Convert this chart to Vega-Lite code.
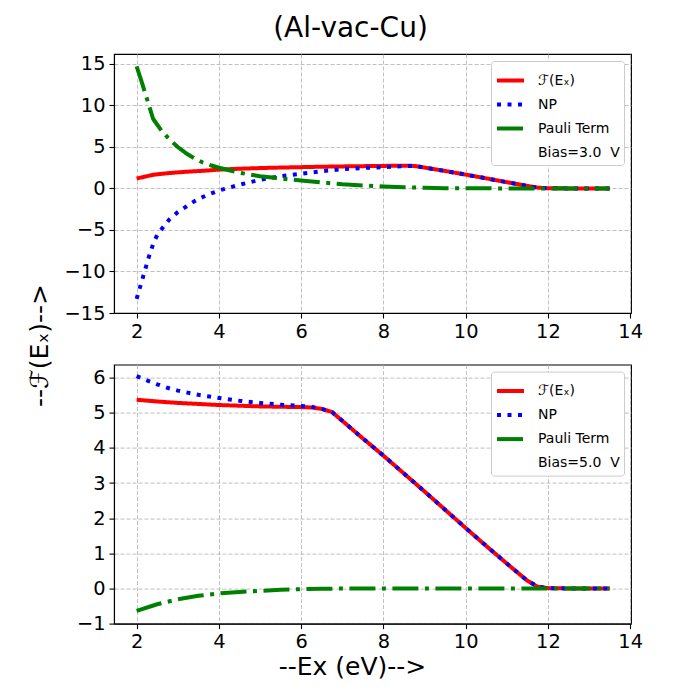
{
  "$schema": "https://vega.github.io/schema/vega-lite/v6.json",
  "padding": {"left": 26, "top": 15, "right": 20, "bottom": 20},
  "background": "white",
  "title": {
    "text": "(Al-vac-Cu)",
    "fontSize": 28,
    "fontWeight": "normal",
    "font": "DejaVu Sans",
    "color": "black",
    "anchor": "middle",
    "frame": "group",
    "baseline": "alphabetic",
    "offset": -12,
    "dx": -22
  },
  "datasets": {
    "top": [
      {"x": 2, "s": "ℱ(Eₓ)", "y": 1.2},
      {"x": 2.2, "s": "ℱ(Eₓ)", "y": 1.42},
      {"x": 2.4, "s": "ℱ(Eₓ)", "y": 1.65},
      {"x": 2.6, "s": "ℱ(Eₓ)", "y": 1.76},
      {"x": 2.8, "s": "ℱ(Eₓ)", "y": 1.86},
      {"x": 3, "s": "ℱ(Eₓ)", "y": 1.94},
      {"x": 3.2, "s": "ℱ(Eₓ)", "y": 2.01},
      {"x": 3.4, "s": "ℱ(Eₓ)", "y": 2.07},
      {"x": 3.6, "s": "ℱ(Eₓ)", "y": 2.13},
      {"x": 3.8, "s": "ℱ(Eₓ)", "y": 2.19},
      {"x": 4, "s": "ℱ(Eₓ)", "y": 2.27},
      {"x": 4.5, "s": "ℱ(Eₓ)", "y": 2.38},
      {"x": 5, "s": "ℱ(Eₓ)", "y": 2.46},
      {"x": 5.5, "s": "ℱ(Eₓ)", "y": 2.52},
      {"x": 6, "s": "ℱ(Eₓ)", "y": 2.57},
      {"x": 6.5, "s": "ℱ(Eₓ)", "y": 2.62},
      {"x": 7, "s": "ℱ(Eₓ)", "y": 2.66},
      {"x": 7.5, "s": "ℱ(Eₓ)", "y": 2.69},
      {"x": 8, "s": "ℱ(Eₓ)", "y": 2.72},
      {"x": 8.5, "s": "ℱ(Eₓ)", "y": 2.74},
      {"x": 8.75, "s": "ℱ(Eₓ)", "y": 2.72},
      {"x": 9, "s": "ℱ(Eₓ)", "y": 2.52},
      {"x": 9.5, "s": "ℱ(Eₓ)", "y": 2.11},
      {"x": 10, "s": "ℱ(Eₓ)", "y": 1.67},
      {"x": 10.5, "s": "ℱ(Eₓ)", "y": 1.22},
      {"x": 11, "s": "ℱ(Eₓ)", "y": 0.76},
      {"x": 11.5, "s": "ℱ(Eₓ)", "y": 0.31},
      {"x": 11.75, "s": "ℱ(Eₓ)", "y": 0.1},
      {"x": 12, "s": "ℱ(Eₓ)", "y": 0.03},
      {"x": 12.5, "s": "ℱ(Eₓ)", "y": 0.01},
      {"x": 13, "s": "ℱ(Eₓ)", "y": 0.01},
      {"x": 13.5, "s": "ℱ(Eₓ)", "y": 0},
      {"x": 2, "s": "NP", "y": -13.3},
      {"x": 2.1, "s": "NP", "y": -11.6},
      {"x": 2.2, "s": "NP", "y": -9.9},
      {"x": 2.3, "s": "NP", "y": -8.2},
      {"x": 2.4, "s": "NP", "y": -6.7},
      {"x": 2.5, "s": "NP", "y": -5.6},
      {"x": 2.6, "s": "NP", "y": -4.95},
      {"x": 2.8, "s": "NP", "y": -3.7},
      {"x": 3, "s": "NP", "y": -2.85},
      {"x": 3.2, "s": "NP", "y": -2.2},
      {"x": 3.4, "s": "NP", "y": -1.55},
      {"x": 3.6, "s": "NP", "y": -1.05},
      {"x": 3.8, "s": "NP", "y": -0.62},
      {"x": 4, "s": "NP", "y": -0.25},
      {"x": 4.5, "s": "NP", "y": 0.45},
      {"x": 5, "s": "NP", "y": 1.05},
      {"x": 5.5, "s": "NP", "y": 1.48},
      {"x": 6, "s": "NP", "y": 1.78},
      {"x": 6.5, "s": "NP", "y": 2.08},
      {"x": 7, "s": "NP", "y": 2.32},
      {"x": 7.5, "s": "NP", "y": 2.47},
      {"x": 8, "s": "NP", "y": 2.57},
      {"x": 8.5, "s": "NP", "y": 2.7},
      {"x": 8.75, "s": "NP", "y": 2.72},
      {"x": 9, "s": "NP", "y": 2.52},
      {"x": 9.5, "s": "NP", "y": 2.11},
      {"x": 10, "s": "NP", "y": 1.67},
      {"x": 10.5, "s": "NP", "y": 1.22},
      {"x": 11, "s": "NP", "y": 0.76},
      {"x": 11.5, "s": "NP", "y": 0.31},
      {"x": 11.75, "s": "NP", "y": 0.1},
      {"x": 12, "s": "NP", "y": 0.03},
      {"x": 12.5, "s": "NP", "y": 0.01},
      {"x": 13, "s": "NP", "y": 0.01},
      {"x": 13.5, "s": "NP", "y": 0},
      {"x": 2, "s": "Pauli Term", "y": 14.7},
      {"x": 2.1, "s": "Pauli Term", "y": 13.2},
      {"x": 2.2, "s": "Pauli Term", "y": 11.6},
      {"x": 2.3, "s": "Pauli Term", "y": 10.0},
      {"x": 2.4, "s": "Pauli Term", "y": 8.4},
      {"x": 2.6, "s": "Pauli Term", "y": 7.0},
      {"x": 2.8, "s": "Pauli Term", "y": 5.9},
      {"x": 3, "s": "Pauli Term", "y": 5.0},
      {"x": 3.2, "s": "Pauli Term", "y": 4.25},
      {"x": 3.4, "s": "Pauli Term", "y": 3.65},
      {"x": 3.6, "s": "Pauli Term", "y": 3.15},
      {"x": 3.8, "s": "Pauli Term", "y": 2.8},
      {"x": 4, "s": "Pauli Term", "y": 2.5},
      {"x": 4.5, "s": "Pauli Term", "y": 1.9},
      {"x": 5, "s": "Pauli Term", "y": 1.48},
      {"x": 5.5, "s": "Pauli Term", "y": 1.2},
      {"x": 6, "s": "Pauli Term", "y": 0.95},
      {"x": 6.5, "s": "Pauli Term", "y": 0.73},
      {"x": 7, "s": "Pauli Term", "y": 0.52},
      {"x": 7.5, "s": "Pauli Term", "y": 0.37},
      {"x": 8, "s": "Pauli Term", "y": 0.24},
      {"x": 8.5, "s": "Pauli Term", "y": 0.15},
      {"x": 9, "s": "Pauli Term", "y": 0.08},
      {"x": 9.5, "s": "Pauli Term", "y": 0.04},
      {"x": 10, "s": "Pauli Term", "y": 0.02},
      {"x": 11, "s": "Pauli Term", "y": 0.01},
      {"x": 12, "s": "Pauli Term", "y": 0},
      {"x": 13, "s": "Pauli Term", "y": 0},
      {"x": 13.5, "s": "Pauli Term", "y": 0}
    ],
    "bottom": [
      {"x": 2, "s": "ℱ(Eₓ)", "y": 5.37},
      {"x": 2.5, "s": "ℱ(Eₓ)", "y": 5.32},
      {"x": 3, "s": "ℱ(Eₓ)", "y": 5.28},
      {"x": 3.5, "s": "ℱ(Eₓ)", "y": 5.25},
      {"x": 4, "s": "ℱ(Eₓ)", "y": 5.22},
      {"x": 4.5, "s": "ℱ(Eₓ)", "y": 5.2},
      {"x": 5, "s": "ℱ(Eₓ)", "y": 5.18},
      {"x": 5.5, "s": "ℱ(Eₓ)", "y": 5.17},
      {"x": 6, "s": "ℱ(Eₓ)", "y": 5.16},
      {"x": 6.25, "s": "ℱ(Eₓ)", "y": 5.15},
      {"x": 6.5, "s": "ℱ(Eₓ)", "y": 5.11},
      {"x": 6.75, "s": "ℱ(Eₓ)", "y": 5.02},
      {"x": 7, "s": "ℱ(Eₓ)", "y": 4.77},
      {"x": 7.5, "s": "ℱ(Eₓ)", "y": 4.27},
      {"x": 8, "s": "ℱ(Eₓ)", "y": 3.78},
      {"x": 8.5, "s": "ℱ(Eₓ)", "y": 3.27},
      {"x": 9, "s": "ℱ(Eₓ)", "y": 2.76},
      {"x": 9.5, "s": "ℱ(Eₓ)", "y": 2.24},
      {"x": 10, "s": "ℱ(Eₓ)", "y": 1.72},
      {"x": 10.5, "s": "ℱ(Eₓ)", "y": 1.21},
      {"x": 11, "s": "ℱ(Eₓ)", "y": 0.71},
      {"x": 11.5, "s": "ℱ(Eₓ)", "y": 0.22},
      {"x": 11.75, "s": "ℱ(Eₓ)", "y": 0.05},
      {"x": 12, "s": "ℱ(Eₓ)", "y": 0.01},
      {"x": 12.5, "s": "ℱ(Eₓ)", "y": 0},
      {"x": 13, "s": "ℱ(Eₓ)", "y": 0},
      {"x": 13.5, "s": "ℱ(Eₓ)", "y": 0},
      {"x": 2, "s": "NP", "y": 6.04},
      {"x": 2.25, "s": "NP", "y": 5.92},
      {"x": 2.5, "s": "NP", "y": 5.81},
      {"x": 2.75, "s": "NP", "y": 5.71},
      {"x": 3, "s": "NP", "y": 5.63},
      {"x": 3.5, "s": "NP", "y": 5.51},
      {"x": 4, "s": "NP", "y": 5.42},
      {"x": 4.5, "s": "NP", "y": 5.34},
      {"x": 5, "s": "NP", "y": 5.28},
      {"x": 5.5, "s": "NP", "y": 5.23},
      {"x": 6, "s": "NP", "y": 5.19},
      {"x": 6.25, "s": "NP", "y": 5.17},
      {"x": 6.5, "s": "NP", "y": 5.11},
      {"x": 6.75, "s": "NP", "y": 5.02},
      {"x": 7, "s": "NP", "y": 4.77},
      {"x": 7.5, "s": "NP", "y": 4.27},
      {"x": 8, "s": "NP", "y": 3.78},
      {"x": 8.5, "s": "NP", "y": 3.27},
      {"x": 9, "s": "NP", "y": 2.76},
      {"x": 9.5, "s": "NP", "y": 2.24},
      {"x": 10, "s": "NP", "y": 1.72},
      {"x": 10.5, "s": "NP", "y": 1.21},
      {"x": 11, "s": "NP", "y": 0.71},
      {"x": 11.5, "s": "NP", "y": 0.22},
      {"x": 11.75, "s": "NP", "y": 0.05},
      {"x": 12, "s": "NP", "y": 0.01},
      {"x": 12.5, "s": "NP", "y": 0},
      {"x": 13, "s": "NP", "y": 0},
      {"x": 13.5, "s": "NP", "y": 0},
      {"x": 2, "s": "Pauli Term", "y": -0.64},
      {"x": 2.5, "s": "Pauli Term", "y": -0.45},
      {"x": 3, "s": "Pauli Term", "y": -0.31},
      {"x": 3.5, "s": "Pauli Term", "y": -0.21},
      {"x": 4, "s": "Pauli Term", "y": -0.14},
      {"x": 4.5, "s": "Pauli Term", "y": -0.1},
      {"x": 5, "s": "Pauli Term", "y": -0.07},
      {"x": 5.5, "s": "Pauli Term", "y": -0.04},
      {"x": 6, "s": "Pauli Term", "y": -0.02},
      {"x": 6.5, "s": "Pauli Term", "y": -0.01},
      {"x": 7, "s": "Pauli Term", "y": 0},
      {"x": 8, "s": "Pauli Term", "y": 0},
      {"x": 9, "s": "Pauli Term", "y": 0},
      {"x": 10, "s": "Pauli Term", "y": 0},
      {"x": 11, "s": "Pauli Term", "y": 0},
      {"x": 12, "s": "Pauli Term", "y": 0},
      {"x": 13, "s": "Pauli Term", "y": 0},
      {"x": 13.5, "s": "Pauli Term", "y": 0}
    ]
  },
  "spacing": 51.6,
  "bounds": "flush",
  "resolve": {
    "scale": {"x": "independent", "y": "independent", "color": "independent", "strokeDash": "independent"},
    "legend": {"color": "independent", "strokeDash": "independent"}
  },
  "vconcat": [
    {
      "width": 517,
      "height": 259,
      "data": {"name": "top"},
      "mark": {"type": "line", "strokeWidth": 4, "strokeCap": "butt", "strokeJoin": "round", "clip": true},
      "encoding": {
        "x": {
          "field": "x", "type": "quantitative",
          "scale": {"domain": [1.45, 14.02], "nice": false, "zero": false},
          "axis": {"values": [2, 4, 6, 8, 10, 12, 14], "title": null}
        },
        "y": {
          "field": "y", "type": "quantitative",
          "scale": {"domain": [-15, 16.2], "nice": false, "zero": false},
          "axis": {
            "values": [-15, -10, -5, 0, 5, 10, 15],
            "title": "--ℱ(Eₓ)-->",
            "titleX": -67,
            "titleY": 291,
            "titleAngle": 270,
            "titleAlign": "center",
            "titleBaseline": "alphabetic"
          }
        },
        "color": {
          "field": "s", "type": "nominal",
          "scale": {
            "domain": ["ℱ(Eₓ)", "NP", "Pauli Term", "Bias=3.0\u00a0 V"],
            "range": ["#ff0000", "#0000ff", "#008000", "rgba(0,0,0,0)"]
          },
          "legend": {"title": null}
        },
        "strokeDash": {
          "field": "s", "type": "nominal",
          "scale": {
            "domain": ["ℱ(Eₓ)", "NP", "Pauli Term", "Bias=3.0\u00a0 V"],
            "range": [[1, 0], [4, 6.5], [26, 6.5, 4, 6.5], [1, 0]]
          },
          "legend": {"title": null}
        }
      }
    },
    {
      "width": 517,
      "height": 259,
      "data": {"name": "bottom"},
      "mark": {"type": "line", "strokeWidth": 4, "strokeCap": "butt", "strokeJoin": "round", "clip": true},
      "encoding": {
        "x": {
          "field": "x", "type": "quantitative",
          "scale": {"domain": [1.45, 14.02], "nice": false, "zero": false},
          "axis": {
            "values": [2, 4, 6, 8, 10, 12, 14],
            "title": "--Ex (eV)-->",
            "titleX": 238,
            "titleY": 51,
            "titleAlign": "center",
            "titleBaseline": "alphabetic"
          }
        },
        "y": {
          "field": "y", "type": "quantitative",
          "scale": {"domain": [-1, 6.37], "nice": false, "zero": false},
          "axis": {"values": [-1, 0, 1, 2, 3, 4, 5, 6], "title": null}
        },
        "color": {
          "field": "s", "type": "nominal",
          "scale": {
            "domain": ["ℱ(Eₓ)", "NP", "Pauli Term", "Bias=5.0\u00a0 V"],
            "range": ["#ff0000", "#0000ff", "#008000", "rgba(0,0,0,0)"]
          },
          "legend": {"title": null}
        },
        "strokeDash": {
          "field": "s", "type": "nominal",
          "scale": {
            "domain": ["ℱ(Eₓ)", "NP", "Pauli Term", "Bias=5.0\u00a0 V"],
            "range": [[1, 0], [4, 6.5], [26, 6.5, 4, 6.5], [1, 0]]
          },
          "legend": {"title": null}
        }
      }
    }
  ],
  "config": {
    "font": "DejaVu Sans",
    "view": {"stroke": "black", "strokeWidth": 1.1},
    "axis": {
      "domainColor": "black",
      "domainWidth": 1.1,
      "tickColor": "black",
      "tickSize": 5,
      "tickWidth": 1.1,
      "labelFont": "DejaVu Sans",
      "labelFontSize": 19.4,
      "labelColor": "black",
      "labelPadding": 4,
      "labelOverlap": false,
      "labelFlush": false,
      "grid": true,
      "gridColor": "#b0b0b0",
      "gridDash": [4, 2],
      "gridWidth": 0.8,
      "gridOpacity": 1,
      "titleFont": "DejaVu Sans",
      "titleFontSize": 25,
      "titleFontWeight": "normal",
      "titleColor": "black"
    },
    "legend": {
      "orient": "top-right",
      "offset": 7,
      "fillColor": "white",
      "strokeColor": "#cccccc",
      "cornerRadius": 3,
      "padding": 4,
      "labelFont": "DejaVu Sans",
      "labelFontSize": 14,
      "labelColor": "black",
      "labelOffset": 12,
      "symbolSize": 729,
      "symbolStrokeWidth": 4,
      "rowPadding": -4.4
    }
  }
}
